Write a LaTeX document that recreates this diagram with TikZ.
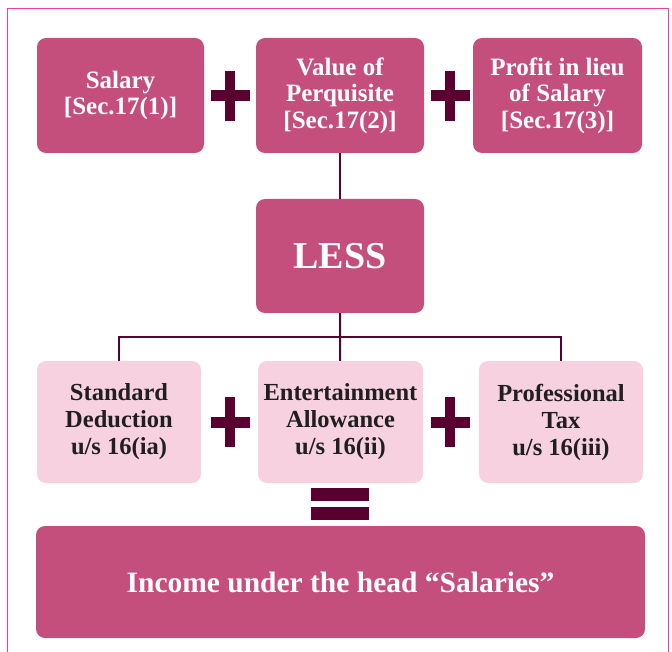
\documentclass[tikz,border=0pt]{standalone}
\usepackage{fontspec}
\setmainfont{Liberation Serif}
\definecolor{rosebox}{HTML}{C54F7C}
\definecolor{palebox}{HTML}{F7D1E0}
\definecolor{maroon}{HTML}{5A0030}
\definecolor{frame}{HTML}{EC3FA6}
\tikzset{
    headbox/.style={fill=rosebox, rounded corners=9pt, text=white, font=\bfseries\fontsize{25}{26.5}\selectfont, align=center, inner sep=0pt},
    dedbox/.style={fill=palebox, rounded corners=9pt, text=black!88, font=\bfseries\fontsize{24.5}{27}\selectfont, align=center, inner sep=0pt},
    link/.style={maroon, line width=2pt},
}
\newcommand{\plussign}[1]{%
    \fill[maroon] ($(#1)+(-19.5,-5.5)$) rectangle ($(#1)+(19.5,5.5)$);
    \fill[maroon] ($(#1)+(-5,-25)$) rectangle ($(#1)+(5,25)$);}
\usetikzlibrary{calc}
\begin{document}
\begin{tikzpicture}[x=1pt, y=-1pt]
        \useasboundingbox (0,0) rectangle (672,652);
        \draw[frame, line width=1.5pt] (7.5,670) -- (7.5,8.5) -- (668.5,8.5) -- (668.5,670);
        % top row
        \node[headbox, minimum width=167pt, minimum height=115pt] (salary) at (120.5,95.5) {Salary\\{[Sec.17(1)]}};
        \node[headbox, minimum width=168pt, minimum height=115pt] (perq) at (340,95.5) {Value of\\Perquisite\\{[Sec.17(2)]}};
        \node[headbox, minimum width=169pt, minimum height=115pt] (profit) at (557.5,95.5) {Profit in lieu\\of Salary\\{[Sec.17(3)]}};
        \node[headbox, minimum width=168pt, minimum height=114pt, font=\bfseries\fontsize{38}{38}\selectfont] (less) at (340,256) {LESS};
        % deductions
        \node[dedbox, minimum width=164pt, minimum height=122pt] (std) at (119,422) {Standard\\Deduction\\u/s 16(ia)};
        \node[dedbox, minimum width=165pt, minimum height=122pt] (ent) at (340.5,422) {Entertainment\\Allowance\\u/s 16(ii)};
        \node[dedbox, minimum width=164pt, minimum height=122pt] (ptax) at (561,422) {Professional\\Tax\\u/s 16(iii)};
        \node[headbox, minimum width=609pt, minimum height=112pt, font=\bfseries\fontsize{29.5}{30}\selectfont] (income) at (340.5,582) {Income under the head “Salaries”};
        \coordinate (split) at (340,337);
        \draw[link] (perq) -- (less);
        \draw[link] (less) -- (split) -- (ent);
        \draw[link] (std.north) |- (split) -| (ptax.north);
        \plussign{230,96}
        \plussign{450,96}
        \plussign{230,422}
        \plussign{450,422}
        \fill[maroon] (311,488) rectangle (369,501);
        \fill[maroon] (311,507) rectangle (369,520);
    \end{tikzpicture}
\end{document}
